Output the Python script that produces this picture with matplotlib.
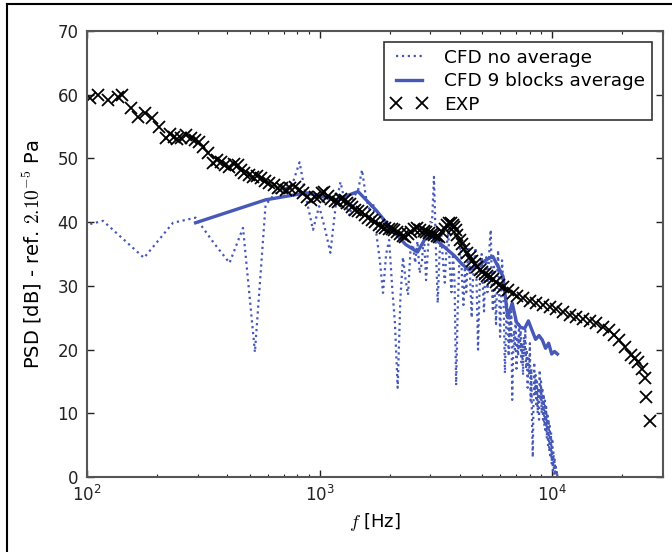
import numpy as np
import matplotlib
matplotlib.use("Agg")
import matplotlib.pyplot as plt
from matplotlib.lines import Line2D

# ---------------- data ----------------
# CFD, no averaging: bins of 58.6 Hz (k = 1..180)
cfd_df = 58.6
cfd_raw_db = [
    37.5, 40.2, 34.4, 39.9, 40.7, 36.7, 33.6, 39.1, 19.6, 42.7,   # 1-10
    44.5, 45.2, 45.8, 49.4, 43.5, 38.8, 42.5, 39.0, 35.2, 42.4,   # 11-20
    46.3, 43.0, 41.0, 44.0, 45.0, 48.2, 44.0, 41.9, 43.0, 38.0,   # 21-30
    34.0, 28.9, 35.0, 37.2, 30.0, 24.2, 14.0, 28.0, 34.5, 31.0,   # 31-40
    28.6, 35.6, 36.5, 33.6, 37.0, 32.0, 33.6, 38.0, 30.9, 36.0,   # 41-50
    40.0, 40.0, 47.1, 36.1, 27.3, 35.0, 38.0, 33.6, 30.5, 36.0,   # 51-60
    38.5, 33.0, 29.0, 35.0, 30.5, 14.4, 26.0, 33.0, 37.0, 31.0,   # 61-70
    27.0, 33.0, 29.0, 34.0, 36.1, 30.0, 25.0, 31.0, 34.0, 36.0,   # 71-80
    29.0, 20.0, 28.0, 33.0, 35.0, 30.0, 26.0, 32.0, 34.5, 29.0,   # 81-90
    33.0, 36.5, 38.8, 30.0, 26.0, 33.0, 28.0, 24.0, 31.0, 35.6,   # 91-100
    30.0, 22.0, 28.0, 34.0, 31.0, 25.0, 16.3, 22.0, 28.0, 24.0,   # 101-110
    19.0, 25.0, 21.0, 26.0, 12.1, 19.0, 23.0, 20.0, 25.0, 17.0,   # 111-120
    22.0, 19.0, 24.0, 20.0, 23.0, 18.0, 21.0, 16.0, 22.0, 19.0,   # 121-130
    23.0, 17.0, 20.0, 14.0, 19.0, 16.0, 21.0, 12.0, 17.0, 8.0,    # 131-140
    3.1, 12.0, 18.0, 13.0, 16.0, 11.0, 15.0, 10.0, 14.0, 9.0,     # 141-150
    16.8, 12.0, 15.0, 10.0, 14.0, 9.0, 13.0, 8.0, 12.0, 7.0,      # 151-160
    11.0, 6.0, 10.0, 5.0, 9.0, 4.0, 8.0, 3.0, 7.0, 2.0,           # 161-170
    6.0, 1.0, 4.0, 0.5, 3.0, 0.3, 2.0, 0.2, 1.0, 0.0,             # 171-180
]

# CFD, 9 blocks average: bins of 293 Hz (k = 1..36)
avg_df = 293.0
cfd_avg_db = [
    39.9, 43.5, 44.6, 43.5, 44.8, 41.8, 38.8, 36.5, 35.3, 38.2,
    37.0, 35.8, 34.7, 33.4, 32.5, 33.0, 33.6, 34.2, 34.6, 33.0,
    31.5, 25.0, 27.3, 24.3, 23.5, 23.3, 24.5, 23.0, 21.6, 22.2,
    21.5, 20.2, 21.0, 19.3, 19.7, 19.3,
]

# Experiment
exp_f = [103, 112, 123, 136, 141, 154, 166, 178, 191, 203, 218, 227, 236, 245,
         253, 266, 279, 290, 302, 315, 330, 347, 362, 376, 392, 408, 428, 446,
         460, 473, 495, 518, 540, 562, 585, 607, 635, 664, 690, 719, 750, 781,
         815, 850, 885, 923, 955, 990, 1020, 1050, 1085, 1120, 1160, 1200, 1240,
         1283, 1315, 1350, 1385, 1420, 1470, 1520, 1570, 1620, 1680, 1740, 1800,
         1860, 1920, 1980, 2040, 2100, 2160, 2220, 2280, 2330, 2400, 2480, 2550,
         2630, 2710, 2800, 2880, 2960, 3040, 3120, 3190, 3270, 3360, 3450, 3530,
         3610, 3680, 3750, 3800, 3850, 3920, 4000, 4100, 4200, 4310, 4420, 4530,
         4650, 4760, 4880, 5000, 5130, 5260, 5390, 5570, 5750, 5940, 6130, 6450,
         6770, 7100, 7480, 8000, 8500, 9100, 9800, 10400, 11100, 11900, 12700,
         13600, 14600, 15500, 16500, 17500, 18400, 19500, 20600, 21800, 22700,
         23500, 24400, 25000, 25400, 26300]
exp_db = [59.5, 60.0, 59.2, 59.7, 59.9, 57.9, 56.5, 57.1, 56.4, 55.0, 53.2, 53.8,
          53.4, 53.0, 53.2, 53.6, 53.2, 52.9, 52.6, 51.8, 50.8, 49.3, 49.8, 49.5,
          48.9, 48.7, 49.2, 49.0, 48.2, 47.7, 47.4, 47.1, 47.2, 46.9, 46.5, 46.2,
          45.8, 45.4, 45.3, 45.1, 45.4, 45.5, 45.0, 44.6, 44.0, 43.5, 43.9, 44.0,
          44.5, 44.7, 44.1, 43.6, 43.3, 43.2, 43.6, 43.5, 43.0, 42.8, 42.3, 41.9,
          41.8, 41.6, 41.1, 40.7, 40.3, 40.0, 39.5, 39.2, 39.1, 39.0, 38.9, 38.8,
          38.5, 38.2, 37.9, 37.7, 38.1, 38.5, 38.9, 39.1, 38.8, 38.6, 38.4, 38.3,
          38.1, 38.0, 37.8, 37.7, 38.4, 39.0, 39.6, 39.9, 39.8, 39.6, 39.2, 38.8,
          38.0, 37.2, 36.5, 35.8, 35.1, 34.5, 33.9, 33.4, 32.9, 32.5, 32.2, 31.9,
          31.6, 31.4, 31.0, 30.6, 30.2, 29.8, 29.3, 28.9, 28.4, 28.1, 27.6, 27.3,
          27.0, 26.7, 26.3, 25.9, 25.5, 25.1, 24.8, 24.5, 24.2, 23.6, 23.0, 22.3,
          21.5, 20.4, 19.2, 18.6, 18.0, 17.0, 15.6, 12.6, 8.8]

y_ticks = [0, 10, 20, 30, 40, 50, 60, 70]

# ---------------- plotting ----------------
W, H = 672, 552
fig = plt.figure(figsize=(W / 100, H / 100), dpi=100)
ax = fig.add_axes([87 / W, 1 - 477 / H, (663 - 87) / W, (477 - 31) / H])

blue = "#4658b8"
f_raw = cfd_df * np.arange(1, len(cfd_raw_db) + 1)
f_avg = avg_df * np.arange(1, len(cfd_avg_db) + 1)

ax.plot(f_raw, cfd_raw_db, linestyle=":", color=blue, lw=1.6, label="CFD no average")
ax.plot(f_avg, cfd_avg_db, linestyle="-", color=blue, lw=2.4, label="CFD 9 blocks average")
ax.plot(exp_f, exp_db, linestyle="none", marker="x", color="black",
        markersize=9, markeredgewidth=1.3, label="EXP")

ax.set_xscale("log")
ax.set_xlim(100, 30000)
ax.set_ylim(0, 70)
ax.set_yticks(y_ticks)

ax.tick_params(which="both", direction="in", top=True, right=True,
               labelsize=12, colors="#222222")
ax.tick_params(which="major", length=5, width=1, pad=6)
ax.tick_params(which="minor", length=2.5, width=0.8)
for s in ax.spines.values():
    s.set_color("#555555")
    s.set_linewidth(1.5)

ax.set_xlabel("$f$ [Hz]", fontsize=13, math_fontfamily="cm", labelpad=4)
ax.set_ylabel("PSD [dB] - ref. $2.10^{-5}$ Pa", fontsize=14,
              math_fontfamily="cm", labelpad=10)

leg = ax.legend(loc="upper right", numpoints=2, fontsize=13.3, fancybox=False,
                framealpha=1, edgecolor="#333333", borderaxespad=0.6,
                handlelength=2.0, handletextpad=0.9, labelspacing=0.3,
                borderpad=0.35)
leg.get_frame().set_linewidth(1.2)

# figure border (top and left)
fig.add_artist(Line2D([7 / W, 1], [1 - 4 / H, 1 - 4 / H], color="black", lw=1.5))
fig.add_artist(Line2D([7 / W, 7 / W], [0, 1 - 4 / H], color="black", lw=1.5))

fig.savefig("out.png", dpi=100)
